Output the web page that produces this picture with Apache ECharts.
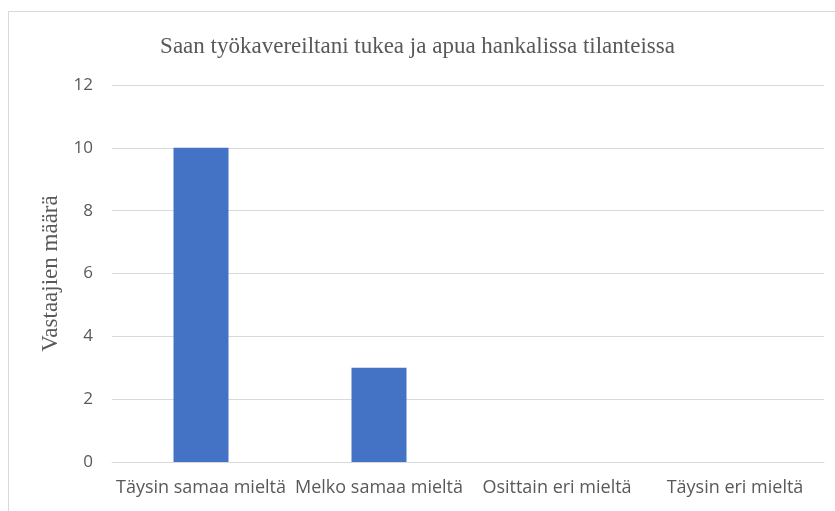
<!DOCTYPE html>
<html><head><meta charset="utf-8">
<script src="https://cdn.jsdelivr.net/npm/echarts@6/dist/echarts.min.js"></script>
<style>html,body{margin:0;padding:0;background:#fff}#c{width:835px;height:511px}</style>
</head><body><div id="c"></div>
<script>
const categories = ['Täysin samaa mieltä', 'Melko samaa mieltä', 'Osittain eri mieltä', 'Täysin eri mieltä'];
const values = [10, 3, 0, 0];
const titleText = 'Saan työkavereiltani tukea ja apua hankalissa tilanteissa';
const yName = 'Vastaajien määrä';

const chart = echarts.init(document.getElementById('c'));
chart.setOption({
  animation: false,
  backgroundColor: '#fff',
  graphic: [{type: 'rect', shape: {x: 8.5, y: 11.5, width: 1000, height: 1000}, style: {fill: 'none', stroke: '#d9d9d9', lineWidth: 1}}],
  title: {text: titleText, left: 'center', top: 30, textStyle: {fontFamily: 'Liberation Serif', fontSize: 23, fontWeight: 'normal', color: '#595959'}},
  grid: {left: 112, right: 11, top: 85, bottom: 49},
  xAxis: {type: 'category', data: categories,
    axisLine: {lineStyle: {color: '#d9d9d9'}}, axisTick: {show: false},
    axisLabel: {color: '#595959', fontFamily: 'Open Sans', fontSize: 18, margin: 17, interval: 0}},
  yAxis: {type: 'value', min: 0, max: 12, interval: 2,
    name: yName, nameLocation: 'middle', nameGap: 48,
    nameTextStyle: {fontFamily: 'Liberation Serif', fontSize: 23, color: '#595959'},
    axisLine: {show: false}, axisTick: {show: false},
    splitLine: {lineStyle: {color: '#d9d9d9'}},
    axisLabel: {color: '#595959', fontFamily: 'Open Sans', fontSize: 17, margin: 19}},
  series: [{type: 'bar', data: values, barWidth: 55, itemStyle: {color: '#4472C4'}}]
});
</script></body></html>
